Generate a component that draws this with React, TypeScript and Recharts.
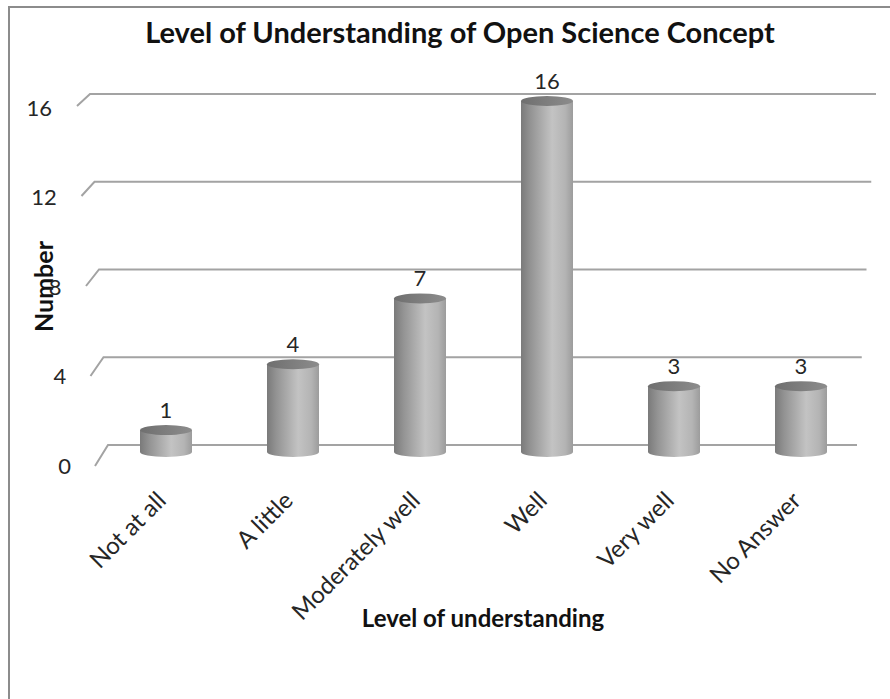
import React from 'react';
import { BarChart, Bar, XAxis, YAxis, CartesianGrid, LabelList, Label } from 'recharts';

const categories = ['Not at all', 'A little', 'Moderately well', 'Well', 'Very well', 'No Answer'];
const counts = [1, 4, 7, 16, 3, 3];
const yTicks = [0, 4, 8, 12, 16];

const data = categories.map((name, i) => ({ name, value: counts[i] }));

// plot box (bar ellipse centres sit on these)
const W = 890;
const H = 699;
const PLOT_TOP = 101;
const PLOT_BOTTOM = 452;
const Y_AXIS_W = 102;
const X_AXIS_H = 180;
const FONT = 'Lato, "Open Sans", sans-serif';

const depth = (y: number) => (y - PLOT_TOP) / (PLOT_BOTTOM - PLOT_TOP);

const Cylinder = (props: any) => {
  const { x, y, width, height, index } = props;
  if (width == null || height == null) return null;
  const rx = width / 2;
  const ry = 5;
  const bottom = y + height;
  const id = `cyl-${index}`;
  return (
    <g>
      <defs>
        <linearGradient id={`${id}-b`} x1="0" y1="0" x2="1" y2="0">
          <stop offset="0" stopColor="#7a7a7a" />
          <stop offset="0.18" stopColor="#939393" />
          <stop offset="0.6" stopColor="#c3c3c3" />
          <stop offset="0.85" stopColor="#b4b4b4" />
          <stop offset="1" stopColor="#9c9c9c" />
        </linearGradient>
        <linearGradient id={`${id}-t`} x1="0" y1="0" x2="1" y2="0">
          <stop offset="0" stopColor="#6f6f6f" />
          <stop offset="1" stopColor="#8c8c8c" />
        </linearGradient>
      </defs>
      <path
        d={`M${x},${y} L${x},${bottom} A${rx},${ry} 0 0 0 ${x + width},${bottom} L${x + width},${y} Z`}
        fill={`url(#${id}-b)`}
      />
      <ellipse cx={x + rx} cy={y} rx={rx} ry={ry} fill={`url(#${id}-t)`} />
    </g>
  );
};

const gridLine = (p: any) => {
  const { x1, x2, y1 } = p;
  const t = depth(y1);
  const backY = y1 - 7;
  const backX = x1 - 12 + t * 18;
  const frontX = backX - 13;
  const frontY = y1 + 5 + t * 9;
  const rightX = x2 + 12 - t * 19;
  return (
    <path
      key={`g-${y1}`}
      d={`M${frontX},${frontY} L${backX},${backY} L${rightX},${backY}`}
      stroke="#a3a3a3"
      strokeWidth={2}
      fill="none"
    />
  );
};

const YTick = (props: any) => {
  const { x, y, payload } = props;
  const t = depth(y);
  return (
    <text
      x={x - 50 + t * 19}
      y={y + 6 + t * 7}
      textAnchor="end"
      dominantBaseline="central"
      fontFamily={FONT}
      fontSize={22}
      fill="#262626"
    >
      {payload.value}
    </text>
  );
};

const XTick = (props: any) => {
  const { x, y, payload } = props;
  const ax = x + 2;
  const ay = y + 50;
  return (
    <text
      x={ax}
      y={ay}
      textAnchor="end"
      transform={`rotate(-45 ${ax} ${ay})`}
      fontFamily={FONT}
      fontSize={24}
      fill="#262626"
    >
      {payload.value}
    </text>
  );
};

const ValueLabel = (props: any) => {
  const { x, y, width, value } = props;
  return (
    <text
      x={x + width / 2}
      y={y - 21}
      textAnchor="middle"
      dominantBaseline="central"
      fontFamily={FONT}
      fontSize={22}
      fill="#262626"
    >
      {value}
    </text>
  );
};

export default function App() {
  return (
    <div style={{ position: 'absolute', left: 0, top: 0, width: W, height: H, overflow: 'hidden', background: '#fff' }}>
      <div
        style={{
          position: 'absolute',
          left: 8,
          top: 6,
          width: W + 20,
          height: H + 20,
          border: '2px solid #8c8c8c',
          boxSizing: 'border-box',
        }}
      />
      <div
        style={{
          position: 'absolute',
          left: 60,
          top: 14,
          width: 800,
          lineHeight: '36px',
          textAlign: 'center',
          fontFamily: FONT,
          fontWeight: 700,
          fontSize: 29,
          color: '#111',
        }}
      >
        Level of Understanding of Open Science Concept
      </div>
      <div style={{ position: 'absolute', left: 0, top: 0 }}>
        <BarChart
          width={W}
          height={H}
          data={data}
          margin={{ top: PLOT_TOP, right: 26, left: 0, bottom: H - PLOT_BOTTOM - X_AXIS_H }}
        >
          <CartesianGrid vertical={false} horizontal={gridLine} />
          <XAxis
            dataKey="name"
            height={X_AXIS_H}
            axisLine={false}
            tickLine={false}
            tickSize={0}
            tickMargin={0}
            interval={0}
            tick={<XTick />}
          >
            <Label
              content={(p: any) => {
                const vb = p.viewBox;
                return (
                  <text
                    x={vb.x + vb.width / 2}
                    y={617}
                    textAnchor="middle"
                    dominantBaseline="central"
                    fontFamily={FONT}
                    fontWeight={700}
                    fontSize={24}
                    fill="#111"
                  >
                    Level of understanding
                  </text>
                );
              }}
            />
          </XAxis>
          <YAxis
            width={Y_AXIS_W}
            domain={[0, 16]}
            ticks={yTicks}
            axisLine={false}
            tickLine={false}
            tickSize={0}
            tickMargin={0}
            tick={<YTick />}
          >
            <Label
              content={(p: any) => {
                const vb = p.viewBox;
                const cy = vb.y + vb.height / 2 + 10;
                return (
                  <text
                    x={43}
                    y={cy}
                    textAnchor="middle"
                    dominantBaseline="central"
                    transform={`rotate(-90 43 ${cy})`}
                    fontFamily={FONT}
                    fontWeight={700}
                    fontSize={25}
                    fill="#111"
                  >
                    Number
                  </text>
                );
              }}
            />
          </YAxis>
          <Bar dataKey="value" barSize={52} shape={<Cylinder />} isAnimationActive={false}>
            <LabelList dataKey="value" content={<ValueLabel />} />
          </Bar>
        </BarChart>
      </div>
    </div>
  );
}
